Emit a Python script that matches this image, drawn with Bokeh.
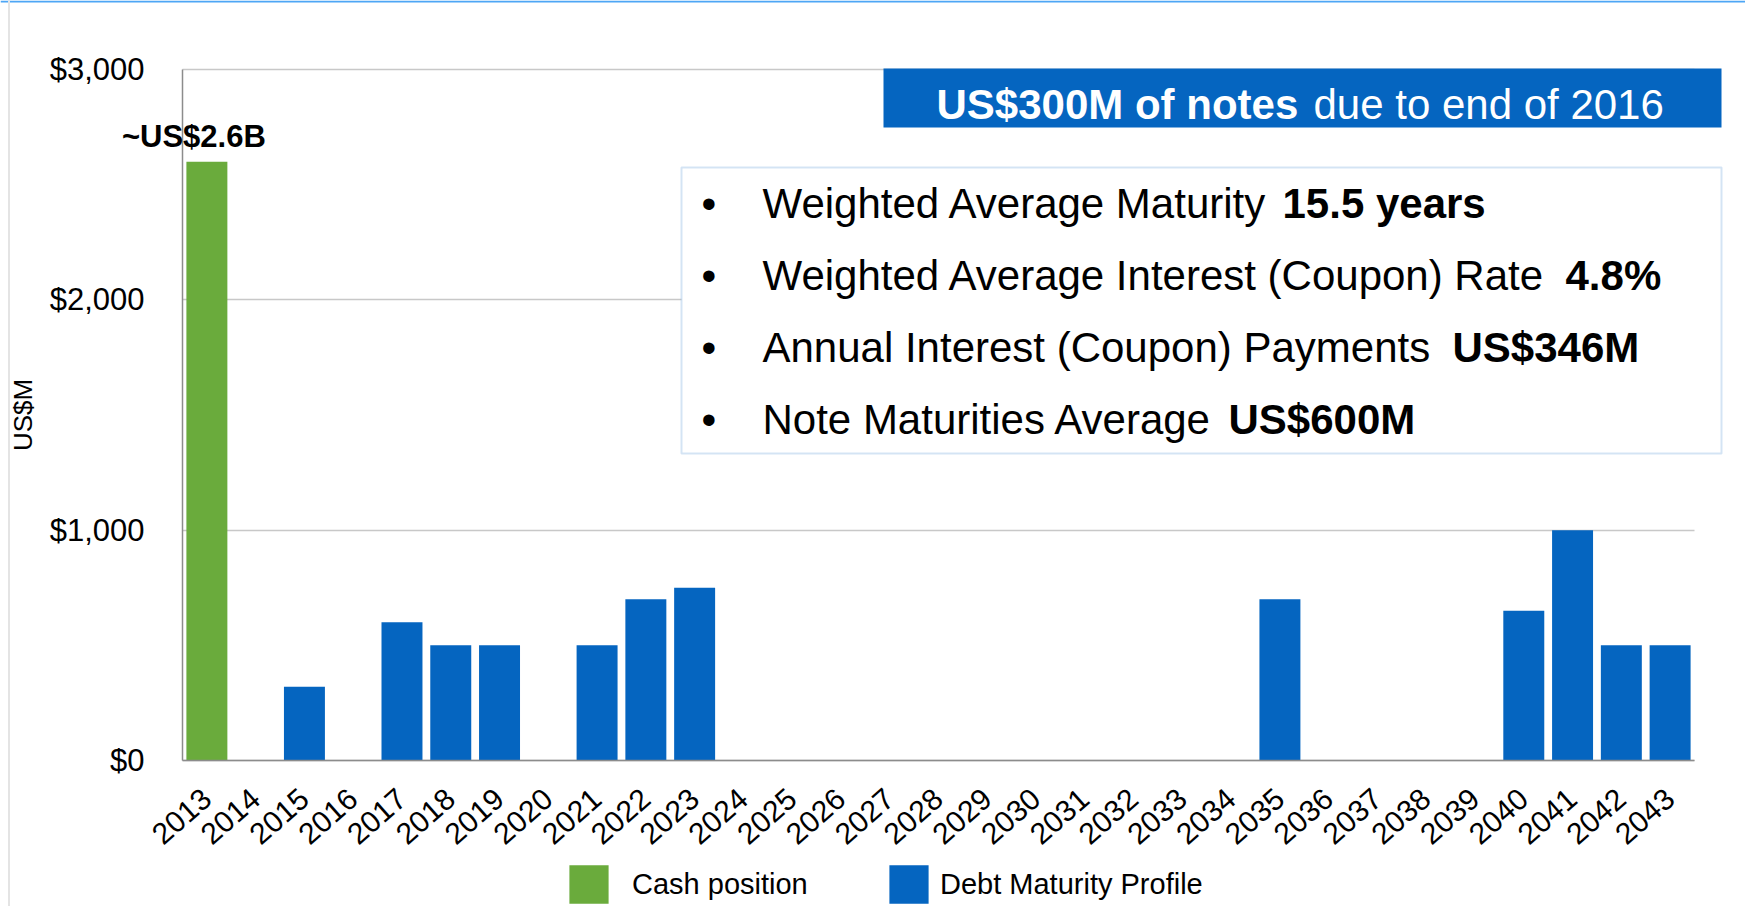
from bokeh.plotting import figure
from bokeh.models import (ColumnDataSource, Range1d, FixedTicker, NumeralTickFormatter,
                          BoxAnnotation, Label, Legend, LegendItem, Span, Grid)
from bokeh.embed import file_html
from bokeh.resources import INLINE

# ---------------- data ----------------
years = [2013, 2014, 2015, 2016, 2017, 2018, 2019, 2020, 2021, 2022, 2023,
         2024, 2025, 2026, 2027, 2028, 2029, 2030, 2031, 2032, 2033, 2034,
         2035, 2036, 2037, 2038, 2039, 2040, 2041, 2042, 2043]
debt_values = [0, 0, 320, 0, 600, 500, 500, 0, 500, 700, 750,
               0, 0, 0, 0, 0, 0, 0, 0, 0, 0, 0,
               700, 0, 0, 0, 0, 650, 1000, 500, 500]
cash_years = [2013]
cash_values = [2600]
cash_labels = ["~US$2.6B"]
series_names = ["Cash position", "Debt Maturity Profile"]
y_ticks = [0, 1000, 2000, 3000]
y_title = "US$M"
banner_bold = "US$300M of notes"
banner_normal = "due to end of 2016"
bullet_normal = ["Weighted Average Maturity",
                 "Weighted Average Interest (Coupon) Rate",
                 "Annual Interest (Coupon) Payments",
                 "Note Maturities Average"]
bullet_bold = ["15.5 years", "4.8%", "US$346M", "US$600M"]

# ---------------- layout / style ----------------
FONT = "Liberation Sans"
GREEN = "#6aab3c"
BLUE = "#0565c0"
W, H = 1745, 906
FL, FR, FT, FB = 182, 1694, 69, 760   # plot area edges in canvas pixels
YR_LO, YR_HI = 2012.5, 2043.5
U = (FR - FL) / (YR_HI - YR_LO)        # px per year
V = (FB - FT) / 3000.0                 # px per US$M
X_START = YR_LO - FL / U
X_END = YR_LO + (W - FL) / U
Y_END = 3000 + FT / V
Y_START = -(H - FB) / V
BL = 0.36   # label baseline compensation (fraction of font size)


def xd(px):
    return X_START + px / U


def yd(py):
    return Y_END - py / V


p = figure(width=W, height=H, output_backend="svg", toolbar_location=None,
           x_range=Range1d(X_START, X_END), y_range=Range1d(Y_START, Y_END),
           min_border=0, min_border_left=0, min_border_right=0,
           min_border_top=0, min_border_bottom=0)
p.outline_line_color = None
p.background_fill_color = "white"
p.border_fill_color = "white"

# page decorations (thin slide edges)
p.add_layout(Span(location=yd(1), dimension="width", line_color="#4da6f5", line_width=2))
p.add_layout(Span(location=xd(8.5), dimension="height", line_color="#e4e4e4", line_width=2))

# grid lines limited to the plot area
if "cross_bounds" in Grid.properties():
    p.ygrid.cross_bounds = (YR_LO, YR_HI)
    p.ygrid.ticker = FixedTicker(ticks=y_ticks)
    p.ygrid.grid_line_color = "#c8c8c8"
    p.ygrid.grid_line_width = 1.5
else:
    p.ygrid.visible = False
    p.segment(x0=[YR_LO] * len(y_ticks), x1=[YR_HI] * len(y_ticks),
              y0=y_ticks, y1=y_ticks, line_color="#c8c8c8", line_width=1.5)
p.xgrid.visible = False

debt_src = ColumnDataSource(dict(x=years, top=debt_values))
cash_src = ColumnDataSource(dict(x=cash_years, top=cash_values))

cash_r = p.vbar(x="x", top="top", width=0.84, source=cash_src,
                fill_color=GREEN, line_color=None)
debt_r = p.vbar(x="x", top="top", width=0.84, source=debt_src,
                fill_color=BLUE, line_color=None)

# axes (drawn inside the canvas at fixed positions)
yax = p.yaxis[0]
yax.fixed_location = YR_LO
yax.bounds = (0, 3000)
yax.ticker = FixedTicker(ticks=y_ticks)
yax.formatter = NumeralTickFormatter(format="$0,0")
yax.axis_line_color = "#8c8c8c"
yax.axis_line_width = 1.5
yax.major_tick_line_color = None
yax.minor_tick_line_color = None
yax.major_tick_out = 0
yax.major_tick_in = 0
yax.minor_tick_out = 0
yax.minor_tick_in = 0
yax.major_label_standoff = 38
yax.major_label_text_font = FONT
yax.major_label_text_font_size = "31px"
yax.major_label_text_color = "black"
yax.axis_label = y_title
yax.axis_label_text_font = FONT
yax.axis_label_text_font_size = "26px"
yax.axis_label_text_font_style = "normal"
yax.axis_label_text_color = "black"
yax.axis_label_standoff = 9

xax = p.xaxis[0]
xax.fixed_location = 0
xax.bounds = (YR_LO, YR_HI)
xax.ticker = FixedTicker(ticks=years)
xax.major_label_overrides = {y: str(y) for y in years}
xax.axis_line_color = "#8c8c8c"
xax.axis_line_width = 1.5
xax.major_tick_line_color = None
xax.minor_tick_line_color = None
xax.major_tick_out = 0
xax.major_tick_in = 0
xax.minor_tick_out = 0
xax.minor_tick_in = 0
xax.major_label_orientation = 0.72
xax.major_label_standoff = 34
xax.major_label_text_font = FONT
xax.major_label_text_font_size = "30px"
xax.major_label_text_color = "black"

# cash value label
p.add_layout(Label(x=cash_years[0], y=cash_values[0], x_offset=-13,
                   y_offset=14 + BL * 31,
                   text=cash_labels[0], text_font=FONT, text_font_size="31px",
                   text_font_style="bold", text_align="center",
                   text_baseline="alphabetic", text_color="black"))

# banner
p.add_layout(BoxAnnotation(left=xd(883), right=xd(1721), top=yd(68), bottom=yd(127),
                           fill_color=BLUE, fill_alpha=1, line_color=None))
for txt, px, style in [(banner_bold, 936, "bold"), (banner_normal, 1313, "normal")]:
    p.add_layout(Label(x=xd(px), y=yd(119 - BL * 42), text=txt, text_font=FONT,
                       text_font_size="42px", text_font_style=style,
                       text_color="white", text_baseline="alphabetic"))

# bullet box
p.add_layout(BoxAnnotation(left=xd(681), right=xd(1721), top=yd(167), bottom=yd(453),
                           fill_color="white", fill_alpha=1,
                           line_color="#70a5dc", line_width=2))
baselines = [218, 290, 362, 434]
bold_starts = [1282, 1565, 1452, 1228]
for i in range(len(bullet_normal)):
    by = yd(baselines[i] - BL * 42)
    p.add_layout(Label(x=xd(701), y=by, text="\u2022", text_font=FONT,
                       text_font_size="42px", text_color="black",
                       text_baseline="alphabetic"))
    p.add_layout(Label(x=xd(762), y=by, text=bullet_normal[i], text_font=FONT,
                       text_font_size="42px", text_color="black",
                       text_baseline="alphabetic"))
    p.add_layout(Label(x=xd(bold_starts[i]), y=by, text=bullet_bold[i], text_font=FONT,
                       text_font_size="42px", text_font_style="bold",
                       text_color="black", text_baseline="alphabetic"))

# legend entries below the bars (legend swatches are drawn with a 10% inset)
legend_specs = [(series_names[0], cash_r, 564, 19),
                (series_names[1], debt_r, 884, 7)]
for name, rend, lx, standoff in legend_specs:
    lg = Legend(items=[LegendItem(label=name, renderers=[rend])],
                orientation="horizontal", location=(lx, -2),
                padding=0, margin=0, spacing=0, label_standoff=standoff,
                glyph_width=49, glyph_height=48, label_height=48,
                label_text_font=FONT, label_text_font_size="29px",
                label_text_color="black", label_text_baseline="middle",
                border_line_color=None, background_fill_alpha=0)
    p.add_layout(lg)

open("out.html", "w").write(file_html(p, INLINE))
